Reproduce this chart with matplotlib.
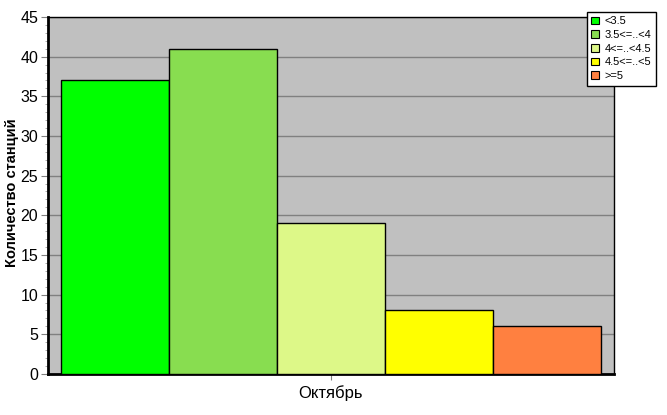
import numpy as np
import matplotlib.pyplot as plt
from matplotlib.ticker import MultipleLocator
from matplotlib.patches import Patch

plt.rcParams['font.family'] = ['Liberation Sans', 'DejaVu Sans']

# данные
categories = ['<3.5', '3.5<=..<4', '4<=..<4.5', '4.5<=..<5', '>=5']
counts = [37, 41, 19, 8, 6]
colors = ['#00FF00', '#88DD50', '#DDF888', '#FFFF00', '#FF8040']
month = 'Октябрь'

fig = plt.figure(figsize=(6.67, 4.15), dpi=100)
ax = fig.add_axes([0.072, 0.099, 0.8485, 0.86])
ax.set_facecolor('#C0C0C0')

x = np.arange(len(counts))
ax.bar(x, counts, width=1.0, color=colors, edgecolor='black', linewidth=1, zorder=3)

ax.set_xlim(-0.62, len(counts) - 0.38)
ax.set_ylim(0, 45)
ax.yaxis.set_major_locator(MultipleLocator(5))
ax.yaxis.set_minor_locator(MultipleLocator(1))
ax.grid(axis='y', which='major', color='#808080', linewidth=1, zorder=1)

ax.set_xticks([(len(counts) - 1) / 2])
ax.set_xticklabels([month], fontsize=12)
ax.tick_params(axis='x', length=4, color='#808080', pad=4)
ax.tick_params(axis='y', which='major', length=5, color='#808080', labelsize=11.5, pad=2)
ax.tick_params(axis='y', which='minor', length=2, width=0.6, color='#A0A0A0')

for side in ['left', 'bottom']:
    ax.spines[side].set_linewidth(2)
for side in ['top', 'right']:
    ax.spines[side].set_linewidth(1)

# подпись оси Y ставим вручную, чтобы не обрезалась
fig.text(12 / 667, 1 - 193 / 415, 'Количество станций', rotation=90,
         ha='center', va='center', fontsize=10.5, weight='bold')

handles = [Patch(facecolor=c, edgecolor='black', linewidth=0.8, label=l)
           for c, l in zip(colors, categories)]
leg = fig.legend(handles=handles, loc='upper left', bbox_to_anchor=(587 / 667, 1 - 12 / 415),
                 fontsize=8, frameon=True, fancybox=False, edgecolor='black',
                 handlelength=0.7, handleheight=0.7, handletextpad=0.5,
                 borderpad=0.4, labelspacing=0.33, borderaxespad=0)
leg.get_frame().set_linewidth(1)
leg.get_frame().set_alpha(1)

plt.savefig('out.png', dpi=100)
